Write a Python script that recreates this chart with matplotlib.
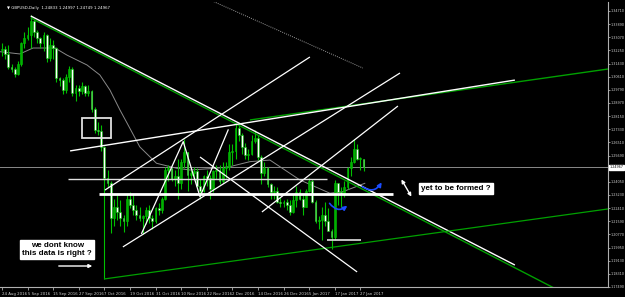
import numpy as np
import matplotlib
matplotlib.use("Agg")
import matplotlib.pyplot as plt
from matplotlib.patches import Rectangle, FancyArrowPatch

# GBPUSD daily candles, 24 Aug 2016 .. 30 Jan 2017 (bar index = trading day)
opens = [1.3225, 1.3235, 1.3200, 1.3120, 1.3110, 1.3080, 1.3140, 1.3270, 1.3300, 1.3320,
         1.3410, 1.3340, 1.3300, 1.3270, 1.3320, 1.3180, 1.3260, 1.3240, 1.3050, 1.3040,
         1.2980, 1.3060, 1.3110, 1.2960, 1.2990, 1.2970, 1.3000, 1.2960, 1.2970, 1.2860,
         1.2730, 1.2720, 1.2620, 1.2430, 1.2400, 1.2180, 1.2250, 1.2220, 1.2180, 1.2160,
         1.2300, 1.2260, 1.2230, 1.2200, 1.2180, 1.2190, 1.2230, 1.2180, 1.2160, 1.2240,
         1.2230, 1.2300, 1.2480, 1.2490, 1.2420, 1.2440, 1.2400, 1.2530, 1.2590, 1.2450,
         1.2460, 1.2470, 1.2380, 1.2350, 1.2440, 1.2430, 1.2360, 1.2470, 1.2480, 1.2410,
         1.2490, 1.2500, 1.2590, 1.2600, 1.2740, 1.2700, 1.2620, 1.2570, 1.2580, 1.2660,
         1.2680, 1.2560, 1.2460, 1.2490, 1.2390, 1.2340, 1.2350, 1.2280, 1.2270, 1.2280,
         1.2260, 1.2220, 1.2290, 1.2340, 1.2300, 1.2250, 1.2350, 1.2410, 1.2280, 1.2160,
         1.2170, 1.2200, 1.2160, 1.2100, 1.2060, 1.2400, 1.2340, 1.2330, 1.2370, 1.2490,
         1.2530, 1.2610, 1.2550, 1.2550]
highs = [1.3270, 1.3250, 1.3260, 1.3140, 1.3120, 1.3160, 1.3280, 1.3340, 1.3370, 1.3445,
         1.3420, 1.3350, 1.3310, 1.3340, 1.3330, 1.3300, 1.3290, 1.3245, 1.3060, 1.3050,
         1.3080, 1.3130, 1.3120, 1.3010, 1.3010, 1.3030, 1.3010, 1.3010, 1.2980, 1.2870,
         1.2780, 1.2760, 1.2630, 1.2480, 1.2410, 1.2300, 1.2320, 1.2290, 1.2200, 1.2330,
         1.2340, 1.2330, 1.2260, 1.2250, 1.2200, 1.2250, 1.2260, 1.2200, 1.2250, 1.2270,
         1.2310, 1.2500, 1.2510, 1.2490, 1.2480, 1.2550, 1.2550, 1.2670, 1.2590, 1.2480,
         1.2500, 1.2490, 1.2420, 1.2450, 1.2480, 1.2450, 1.2480, 1.2510, 1.2510, 1.2530,
         1.2530, 1.2640, 1.2640, 1.2775, 1.2770, 1.2710, 1.2650, 1.2610, 1.2700, 1.2730,
         1.2700, 1.2570, 1.2530, 1.2500, 1.2400, 1.2380, 1.2370, 1.2310, 1.2290, 1.2300,
         1.2290, 1.2330, 1.2380, 1.2360, 1.2330, 1.2360, 1.2430, 1.2420, 1.2290, 1.2190,
         1.2250, 1.2280, 1.2240, 1.2110, 1.2415, 1.2400, 1.2370, 1.2410, 1.2500, 1.2560,
         1.2670, 1.2640, 1.2560, 1.2550]
lows = [1.3190, 1.3170, 1.3110, 1.3090, 1.3060, 1.3070, 1.3130, 1.3240, 1.3290, 1.3240,
        1.3310, 1.3270, 1.3240, 1.3220, 1.3150, 1.3160, 1.3170, 1.3030, 1.3000, 1.2950,
        1.2960, 1.3030, 1.2940, 1.2910, 1.2940, 1.2950, 1.2940, 1.2940, 1.2840, 1.2710,
        1.2700, 1.2600, 1.1799, 1.2370, 1.2085, 1.2130, 1.2170, 1.2130, 1.2090, 1.2130,
        1.2240, 1.2200, 1.2170, 1.2160, 1.2080, 1.2140, 1.2150, 1.2110, 1.2150, 1.2200,
        1.2210, 1.2290, 1.2410, 1.2410, 1.2380, 1.2300, 1.2360, 1.2490, 1.2350, 1.2390,
        1.2420, 1.2370, 1.2300, 1.2340, 1.2380, 1.2300, 1.2340, 1.2420, 1.2390, 1.2400,
        1.2430, 1.2480, 1.2510, 1.2550, 1.2660, 1.2580, 1.2550, 1.2540, 1.2570, 1.2650,
        1.2540, 1.2390, 1.2440, 1.2370, 1.2300, 1.2300, 1.2270, 1.2250, 1.2250, 1.2230,
        1.2200, 1.2210, 1.2250, 1.2290, 1.2200, 1.2250, 1.2340, 1.2270, 1.2150, 1.2110,
        1.2040, 1.2130, 1.2140, 1.1986, 1.2040, 1.2260, 1.2250, 1.2310, 1.2360, 1.2440,
        1.2520, 1.2540, 1.2480, 1.2470]
closes = opens[1:] + [1.24967]

# moving average (grey): (bar, price)
ma_bar = [-0.6, 5.6, 9.7, 16.6, 20.3, 26.6, 30.6, 33.75, 36.9, 39.1, 43.1, 48.3, 54.6,
          58.75, 67.1, 71.25, 77.5, 83.75, 93.1, 98.3, 102.5, 106.6, 113.4]
ma_val = [1.3217, 1.3203, 1.3240, 1.3240, 1.3196, 1.3134, 1.3072, 1.2978, 1.2853, 1.2772,
          1.2623, 1.2521, 1.2490, 1.2479, 1.2490, 1.2500, 1.2531, 1.2541, 1.2417, 1.2371,
          1.2334, 1.2344, 1.2396]

# hand drawn trend lines: (bar0, price0, bar1, price1, colour, width)
trend_lines = [
    (9.0, 1.3428, 172.8, 1.1740, "#00a000", 1.0),
    (9.0, 1.3440, 160.3, 1.1886, "white", 1.0),
    (77.5, 1.2791, 189.4, 1.3109, "#00a000", 1.0),
    (21.3, 1.2598, 160.3, 1.3040, "white", 1.0),
    (31.9, 1.1799, 189.4, 1.2236, "#00a000", 0.9),
    (30.3, 1.2331, 122.2, 1.2331, "white", 2.0),
    (20.6, 1.2423, 101.6, 1.2423, "#e0e0e0", 1.0),
    (32.2, 1.2354, 96.25, 1.3184, "white", 0.9),
    (37.8, 1.1999, 124.4, 1.3084, "white", 0.9),
    (81.25, 1.2217, 123.75, 1.2878, "white", 0.9),
    (61.9, 1.2560, 111.0, 1.1843, "white", 0.9),
    (101.6, 1.2042, 112.2, 1.2042, "#d0d0d0", 1.3),
]
zigzag_bar = [43.66, 56.66, 61.9, 70.7]
zigzag_val = [1.2084, 1.2656, 1.2312, 1.2729]

price_ticks = [round(1.1749 + 0.0082 * k, 4) for k in range(22)]
date_ticks = list(range(0, 113, 8))
date_labels = ["24 Aug 2016", "5 Sep 2016", "15 Sep 2016", "27 Sep 2016", "7 Oct 2016",
               "19 Oct 2016", "31 Oct 2016", "10 Nov 2016", "22 Nov 2016", "2 Dec 2016",
               "14 Dec 2016", "26 Dec 2016", "5 Jan 2017", "17 Jan 2017", "27 Jan 2017"]
last_price = 1.24967

fig = plt.figure(figsize=(6.25, 2.97), dpi=100, facecolor="black")
ax = fig.add_axes([0.0, 10 / 297, 608 / 625, 285 / 297])
ax.set_facecolor("black")
ax.set_xlim(-0.6, 189.4)
ax.set_ylim(1.1749, 1.35271)

# candles
idx = np.arange(len(opens))
o = np.array(opens); h = np.array(highs); l = np.array(lows); c = np.array(closes)
ax.vlines(idx, l, h, color="#00c000", lw=0.8, zorder=3)
bull = c >= o
ax.bar(idx[bull], np.maximum(np.abs(c - o), 0.0003)[bull], bottom=np.minimum(o, c)[bull],
       width=0.6, color="#00b000", edgecolor="#00c000", lw=0.4, zorder=4)
ax.bar(idx[~bull], np.maximum(np.abs(c - o), 0.0003)[~bull], bottom=np.minimum(o, c)[~bull],
       width=0.6, color="white", edgecolor="#00c000", lw=0.4, zorder=4)

# indicators / objects
ax.plot(ma_bar, ma_val, color="#8a8a8a", lw=0.7, zorder=2)
ax.plot([65, 112.8], [1.3540, 1.3115], color="#9a9a9a", lw=0.7, ls=(0, (1, 1.2)), zorder=2)
ax.axhline(last_price, color="#8a8a8a", lw=0.7, zorder=2)
for b0, p0, b1, p1, col, w in trend_lines:
    ax.plot([b0, b1], [p0, p1], color=col, lw=w, zorder=5, solid_capstyle="butt")
ax.plot(zigzag_bar, zigzag_val, color="white", lw=0.9, zorder=5)

ax.add_patch(Rectangle((25.0, 1.2679), 9.06, 0.01248, fill=False, edgecolor="#e0e0e0", lw=1.3, zorder=6))

# arrows
ax.annotate("", xy=(29.1, 1.1880), xytext=(16.9, 1.1880),
            arrowprops=dict(arrowstyle="-|>", color="white", lw=1.0, mutation_scale=5), zorder=7)
ax.annotate("", xy=(128.4, 1.2298), xytext=(124.4, 1.2435),
            arrowprops=dict(arrowstyle="<|-|>", color="white", lw=1.0, mutation_scale=5), zorder=7)
for (b0, p0), (b1, p1) in [((101.9, 1.2285), (108.6, 1.2267)), ((111.9, 1.2385), (119.1, 1.2417))]:
    ax.add_patch(FancyArrowPatch((b0, p0), (b1, p1), connectionstyle="arc3,rad=0.6",
                                 arrowstyle="-|>", mutation_scale=6, color="#1a4cff", lw=1.2, zorder=7))

# text boxes
box = dict(boxstyle="square,pad=0.25", facecolor="white", edgecolor="white")
ax.text(17.3, 1.1983, "we dont know\nthis data is right ?", ha="center", va="center",
        fontsize=5.8, fontweight="bold", family="Liberation Sans", color="black",
        linespacing=1.25, bbox=box, zorder=8)
ax.text(141.9, 1.2364, "yet to be formed ?", ha="center", va="center",
        fontsize=5.8, fontweight="bold", family="Liberation Sans", color="black",
        bbox=box, zorder=8)
ax.text(0.012, 0.985, "\u25bc GBPUSD,Daily  1.24833 1.24997 1.24749 1.24967", transform=ax.transAxes,
        ha="left", va="top", fontsize=2.8, color="white", zorder=8)

# axes styling
for s in ["left", "top"]:
    ax.spines[s].set_visible(False)
for s in ["right", "bottom"]:
    ax.spines[s].set_color("#b0b0b0")
    ax.spines[s].set_linewidth(0.8)
ax.yaxis.tick_right()
ax.set_yticks(price_ticks)
# the tick under the current price box is hidden by that box
ax.set_yticklabels(["" if abs(p - last_price) < 0.002 else "%.5f" % p for p in price_ticks])
ax.set_xticks(date_ticks)
ax.set_xticklabels(date_labels, ha="left")
ax.tick_params(axis="both", colors="#d0d0d0", labelsize=2.8, length=2, width=0.5, pad=1)
ax.tick_params(axis="y", labelsize=2.4, length=1.5, pad=0.6)
ax.tick_params(axis="x", pad=1.5)
ax.text(1.002, last_price, "%.5f" % last_price, transform=ax.get_yaxis_transform(),
        ha="left", va="center", fontsize=2.4, color="black",
        bbox=dict(boxstyle="square,pad=0.15", facecolor="white", edgecolor="white"), zorder=9)

fig.savefig("out.png", dpi=100, facecolor="black")
